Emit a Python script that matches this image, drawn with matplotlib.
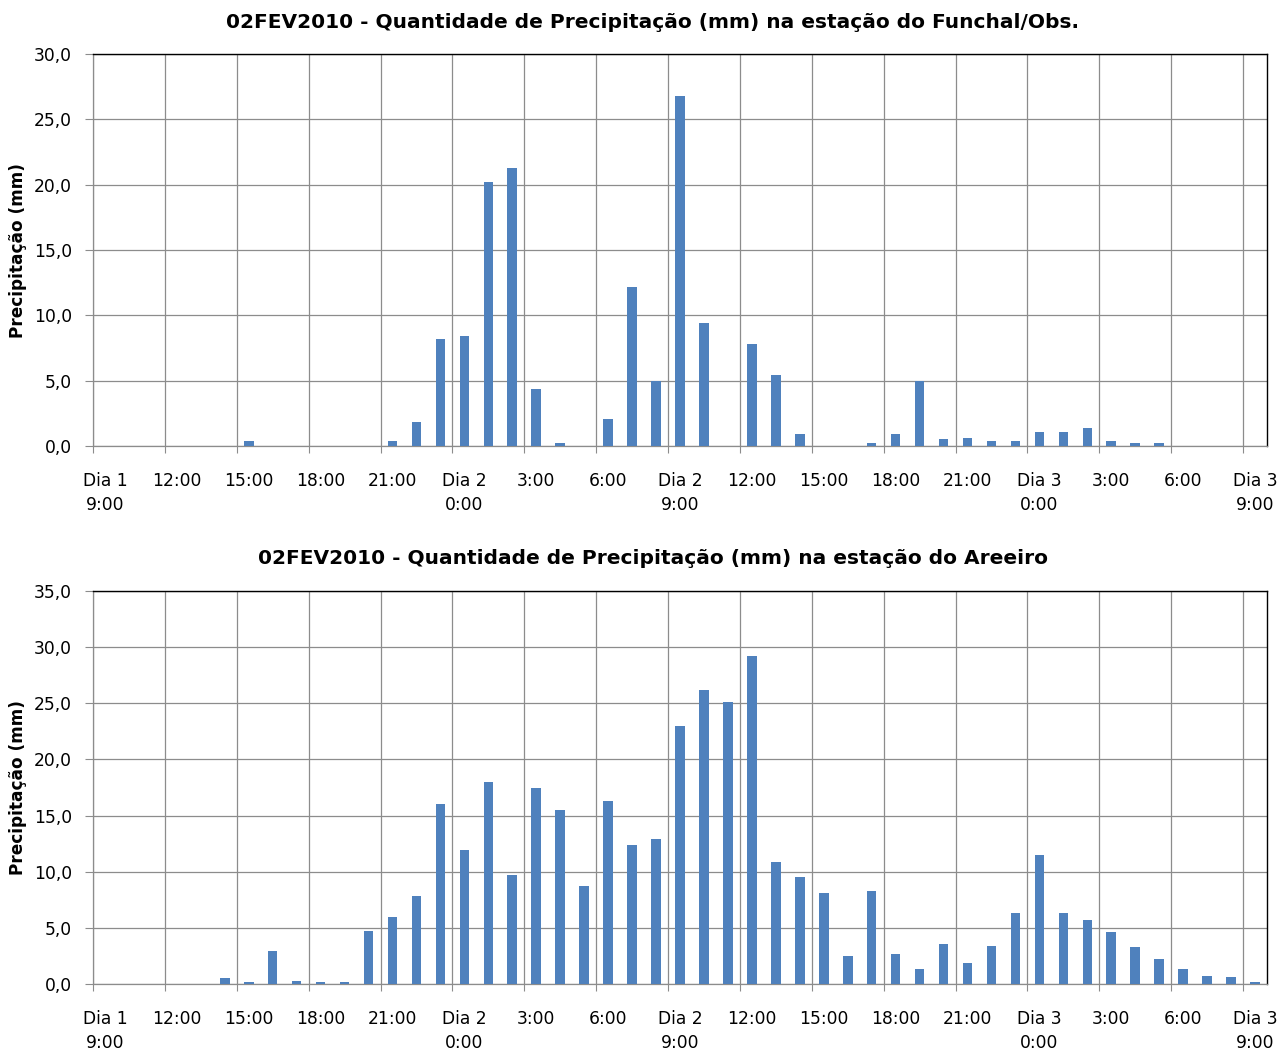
import numpy as np
import matplotlib
matplotlib.use("Agg")
import matplotlib.pyplot as plt
from matplotlib.ticker import MultipleLocator, FixedLocator, FuncFormatter

plt.rcParams['font.family'] = ['DejaVu Sans']

# 49 hourly categories: Dia 1 9:00 ... Dia 3 9:00
tick_labels = ["Dia 1\n9:00", "12:00", "15:00", "18:00", "21:00", "Dia 2\n0:00",
               "3:00", "6:00", "Dia 2\n9:00", "12:00", "15:00", "18:00", "21:00",
               "Dia 3\n0:00", "3:00", "6:00", "Dia 3\n9:00"]

funchal = [0, 0, 0, 0, 0, 0, 0.4, 0, 0, 0, 0, 0, 0.4, 1.8, 8.2, 8.4, 20.2, 21.3,
           4.4, 0.2, 0, 2.1, 12.2, 5.0, 26.8, 9.4, 0, 7.8, 5.4, 0.9, 0, 0, 0.2, 0.9,
           5.0, 0.5, 0.6, 0.4, 0.4, 1.1, 1.1, 1.4, 0.4, 0.2, 0.2, 0, 0, 0, 0]

areeiro = [0, 0, 0, 0, 0, 0.5, 0.2, 2.9, 0.3, 0.2, 0.2, 4.7, 6.0, 7.8, 16.0, 11.9,
           18.0, 9.7, 17.5, 15.5, 8.7, 16.3, 12.4, 12.9, 23.0, 26.2, 25.1, 29.2,
           10.9, 9.5, 8.1, 2.5, 8.3, 2.7, 1.3, 3.6, 1.9, 3.4, 6.3, 11.5, 6.3, 5.7,
           4.6, 3.3, 2.2, 1.3, 0.7, 0.6, 0.2]

titles = ["02FEV2010 - Quantidade de Precipitação (mm) na estação do Funchal/Obs.",
          "02FEV2010 - Quantidade de Precipitação (mm) na estação do Areeiro"]
ylabel = "Precipitação (mm)"

W, H = 1285, 1054
fig = plt.figure(figsize=(W / 100, H / 100), dpi=100)

bar_color = "#4F81BD"
grid_color = "#8C8C8C"

panels = [
    dict(data=funchal, ymax=30, top=54, bottom=446, title_y=22, title=titles[0]),
    dict(data=areeiro, ymax=35, top=591, bottom=984, title_y=558, title=titles[1]),
]

left_px, right_px = 93, 1267

def fmt(v, pos):
    return f"{v:.1f}".replace(".", ",")

for p in panels:
    ax = fig.add_axes([left_px / W, 1 - p["bottom"] / H,
                       (right_px - left_px) / W, (p["bottom"] - p["top"]) / H])
    n = len(p["data"])
    x = np.arange(n)
    ax.bar(x, p["data"], width=0.4, color=bar_color, linewidth=0, zorder=3)
    ax.set_xlim(-0.5, n - 0.5)
    ax.set_ylim(0, p["ymax"])

    # y axis
    ax.yaxis.set_major_locator(MultipleLocator(5))
    ax.yaxis.set_major_formatter(FuncFormatter(fmt))
    ax.tick_params(axis='y', which='major', direction='out', length=6,
                   width=0.8, color=grid_color, pad=9, labelsize=12.3,
                   labelcolor='black')
    ax.grid(axis='y', color=grid_color, linewidth=0.9, zorder=0)

    # x axis: labels at category centres, ticks/grid at boundaries
    label_pos = list(range(0, n, 3))
    ax.xaxis.set_major_locator(FixedLocator(label_pos))
    ax.set_xticklabels(tick_labels, fontsize=12.3, va='top', linespacing=1.4)
    ax.tick_params(axis='x', which='major', length=0, pad=19)
    bounds = [b - 0.5 for b in label_pos]
    ax.xaxis.set_minor_locator(FixedLocator(bounds))
    ax.tick_params(axis='x', which='minor', direction='out', length=5,
                   width=0.8, color=grid_color)
    for b in bounds:
        ax.axvline(b, color=grid_color, linewidth=0.9, zorder=0)

    for s in ['left', 'bottom']:
        ax.spines[s].set_color(grid_color)
        ax.spines[s].set_linewidth(0.9)
    for s in ['top', 'right']:
        ax.spines[s].set_color('black')
        ax.spines[s].set_linewidth(1.0)

    fig.text(653 / W, 1 - p["title_y"] / H, p["title"], ha='center', va='center',
             fontsize=14.5, fontweight='bold')
    fig.text(18 / W, 1 - ((p["top"] + p["bottom"]) / 2) / H, ylabel,
             rotation=90, ha='center', va='center', fontsize=12.2, fontweight='bold')

fig.savefig("out.png", dpi=100)
